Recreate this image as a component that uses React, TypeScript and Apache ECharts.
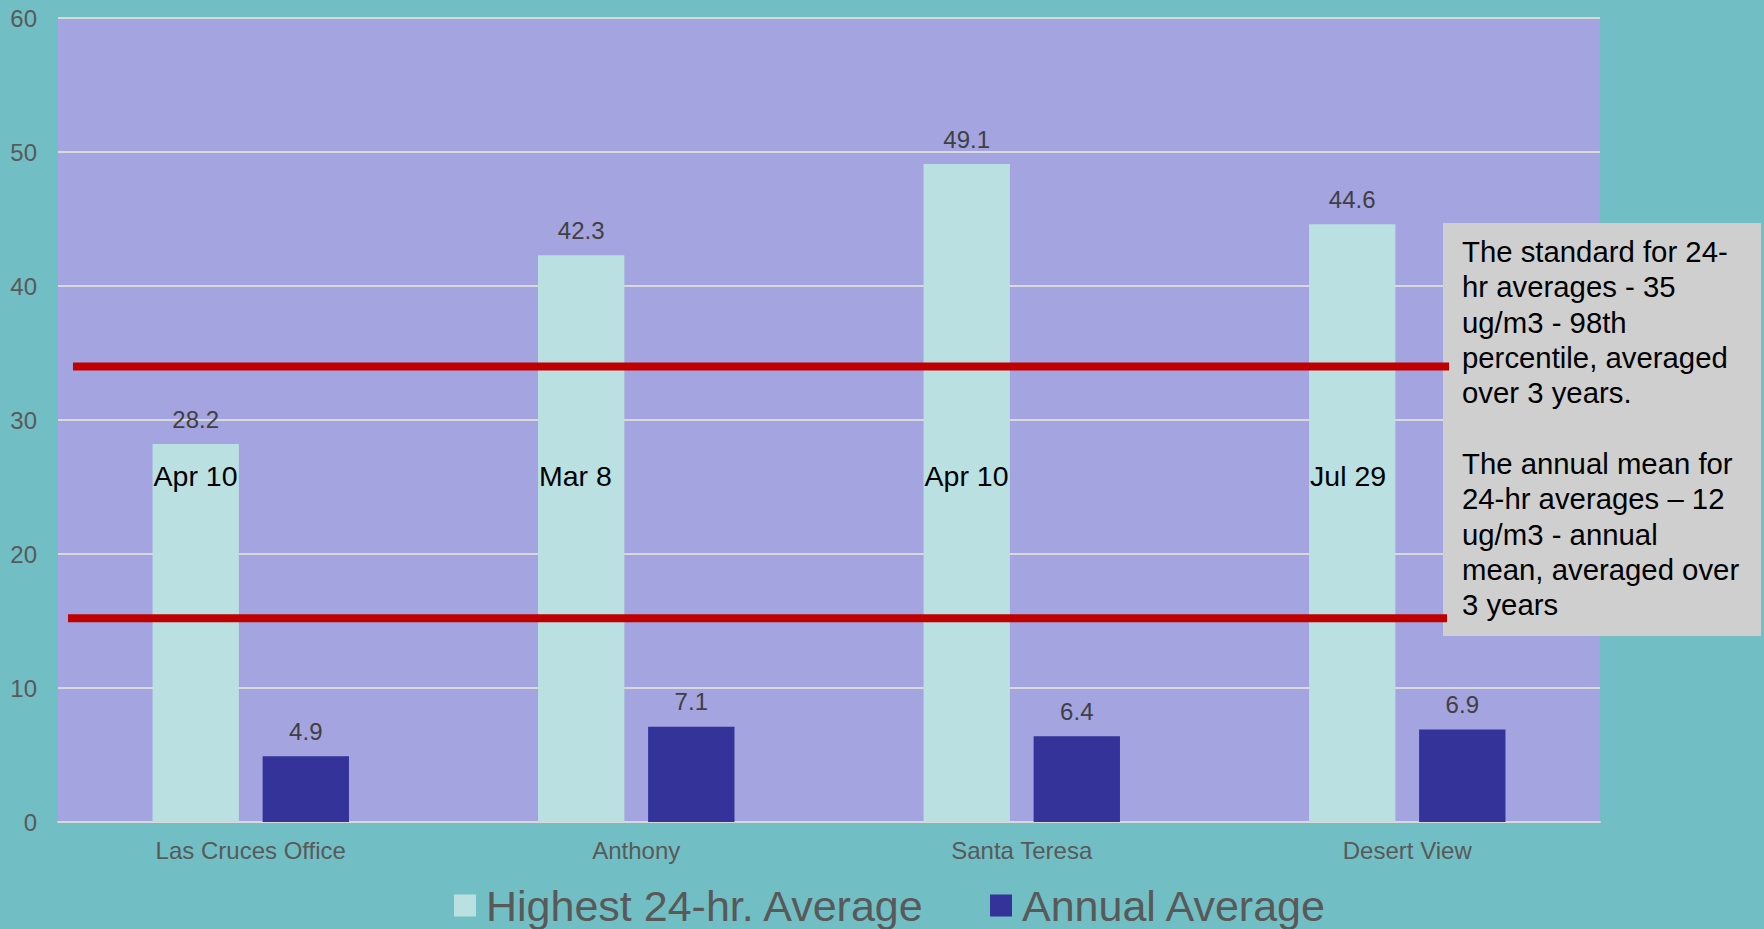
import React, { useEffect, useRef } from 'react';
import * as echarts from 'echarts';

// ---- data ----
const categories = ['Las Cruces Office', 'Anthony', 'Santa Teresa', 'Desert View'];
const highest24hr = [28.2, 42.3, 49.1, 44.6];
const annualAverage = [4.9, 7.1, 6.4, 6.9];
const highestDates = ['Apr 10', 'Mar 8', 'Apr 10', 'Jul 29'];
const seriesNames = ['Highest 24-hr. Average', 'Annual Average'];
const standardLineValues = [34, 15.2];
const yMin = 0;
const yMax = 60;
const yInterval = 10;
const noteLines = [
  'The standard for 24-',
  'hr averages - 35',
  'ug/m3 - 98th',
  'percentile, averaged',
  'over 3 years.',
  '',
  'The annual mean for',
  '24-hr averages \u2013 12',
  'ug/m3 - annual',
  'mean, averaged over',
  '3 years',
];

// ---- style constants ----
const FONT = "'Liberation Sans', Arial, sans-serif";
const BAR_W = 0.224; // fraction of category band
const BAR_GAP = 0.275; // fraction of bar width
const DATE_LABEL_Y = 25.8; // vertical placement of date labels (axis units)
const LINE_X_FRAC = [
  [0.0097, 0.9021],
  [0.0065, 0.9008],
];

export default function App() {
  const ref = useRef<HTMLDivElement>(null);

  useEffect(() => {
    if (!ref.current) return;
    const chart = echarts.init(ref.current, undefined, { renderer: 'svg' });

    const option: any = {
      animation: false,
      backgroundColor: '#71BFC4',
      grid: {
        left: 58,
        right: 164,
        top: 18,
        bottom: 107,
        show: true,
        backgroundColor: '#A4A4E0',
        borderWidth: 0,
      },
      legend: {
        data: seriesNames,
        left: 454,
        top: 884,
        padding: 0,
        itemWidth: 22,
        itemHeight: 22,
        itemGap: 65,
        icon: 'rect',
        textStyle: {
          fontSize: 43,
          color: '#595959',
          fontFamily: FONT,
          padding: [0, 0, 0, 5],
        },
      },
      xAxis: {
        type: 'category',
        data: categories,
        axisTick: { show: false },
        axisLine: { show: true, lineStyle: { color: '#D9D9D9', width: 2 } },
        axisLabel: { margin: 16, fontSize: 24, color: '#595959', fontFamily: FONT },
      },
      yAxis: {
        type: 'value',
        min: yMin,
        max: yMax,
        interval: yInterval,
        axisLine: { show: false },
        axisTick: { show: false },
        axisLabel: { margin: 21, fontSize: 24, color: '#595959', fontFamily: FONT },
        splitLine: { show: true, lineStyle: { color: '#D9D9D9', width: 2 } },
      },
      graphic: [
        {
          type: 'rect',
          z: 5,
          shape: { x: 1443, y: 223, width: 318, height: 413 },
          style: { fill: '#CFCFCF' },
        },
        {
          type: 'text',
          z: 6,
          x: 1462,
          y: 234,
          style: {
            text: noteLines.join('\n'),
            fontSize: 29.33,
            lineHeight: 35.3,
            fill: '#000000',
            fontFamily: FONT,
            align: 'left',
            verticalAlign: 'top',
          },
        },
      ],
      series: [
        {
          name: seriesNames[0],
          type: 'bar',
          data: highest24hr,
          barWidth: `${BAR_W * 100}%`,
          barGap: `${BAR_GAP * 100}%`,
          itemStyle: { color: '#BAE0E2' },
          label: {
            show: true,
            position: 'top',
            distance: 13,
            fontSize: 24,
            color: '#404040',
            fontFamily: FONT,
          },
        },
        {
          name: seriesNames[1],
          type: 'bar',
          data: annualAverage,
          barWidth: `${BAR_W * 100}%`,
          barGap: `${BAR_GAP * 100}%`,
          itemStyle: { color: '#333399' },
          label: {
            show: true,
            position: 'top',
            distance: 13,
            fontSize: 24,
            color: '#404040',
            fontFamily: FONT,
          },
        },
        {
          type: 'custom',
          z: 10,
          silent: true,
          data: highestDates.map((_, i) => [i, DATE_LABEL_Y]),
          encode: { x: 0, y: 1 },
          renderItem: (params: any, api: any) => {
            const i = params.dataIndex;
            const c = api.coord([api.value(0), api.value(1)]);
            const band = api.size([1, 0])[0];
            const w = band * BAR_W;
            const gap = w * BAR_GAP;
            const left = c[0] - (2 * w + gap) / 2;
            return {
              type: 'text',
              x: left + 1,
              y: c[1],
              style: {
                text: highestDates[i],
                fill: '#000000',
                fontSize: 28.5,
                fontFamily: FONT,
                align: 'left',
                verticalAlign: 'middle',
              },
            };
          },
        },
        {
          type: 'custom',
          z: 12,
          silent: true,
          data: standardLineValues.map((v) => [0, v]),
          encode: { x: 0, y: 1 },
          renderItem: (params: any, api: any) => {
            const i = params.dataIndex;
            const cs = params.coordSys;
            const y = api.coord([0, api.value(1)])[1];
            return {
              type: 'line',
              shape: {
                x1: cs.x + LINE_X_FRAC[i][0] * cs.width,
                y1: y,
                x2: cs.x + LINE_X_FRAC[i][1] * cs.width,
                y2: y,
              },
              style: { stroke: '#C00000', lineWidth: 8 },
            };
          },
        },
      ],
    };

    chart.setOption(option);
    return () => chart.dispose();
  }, []);

  return (
    <div
      ref={ref}
      style={{ position: 'absolute', left: 0, top: 0, width: 1764, height: 929 }}
    />
  );
}
